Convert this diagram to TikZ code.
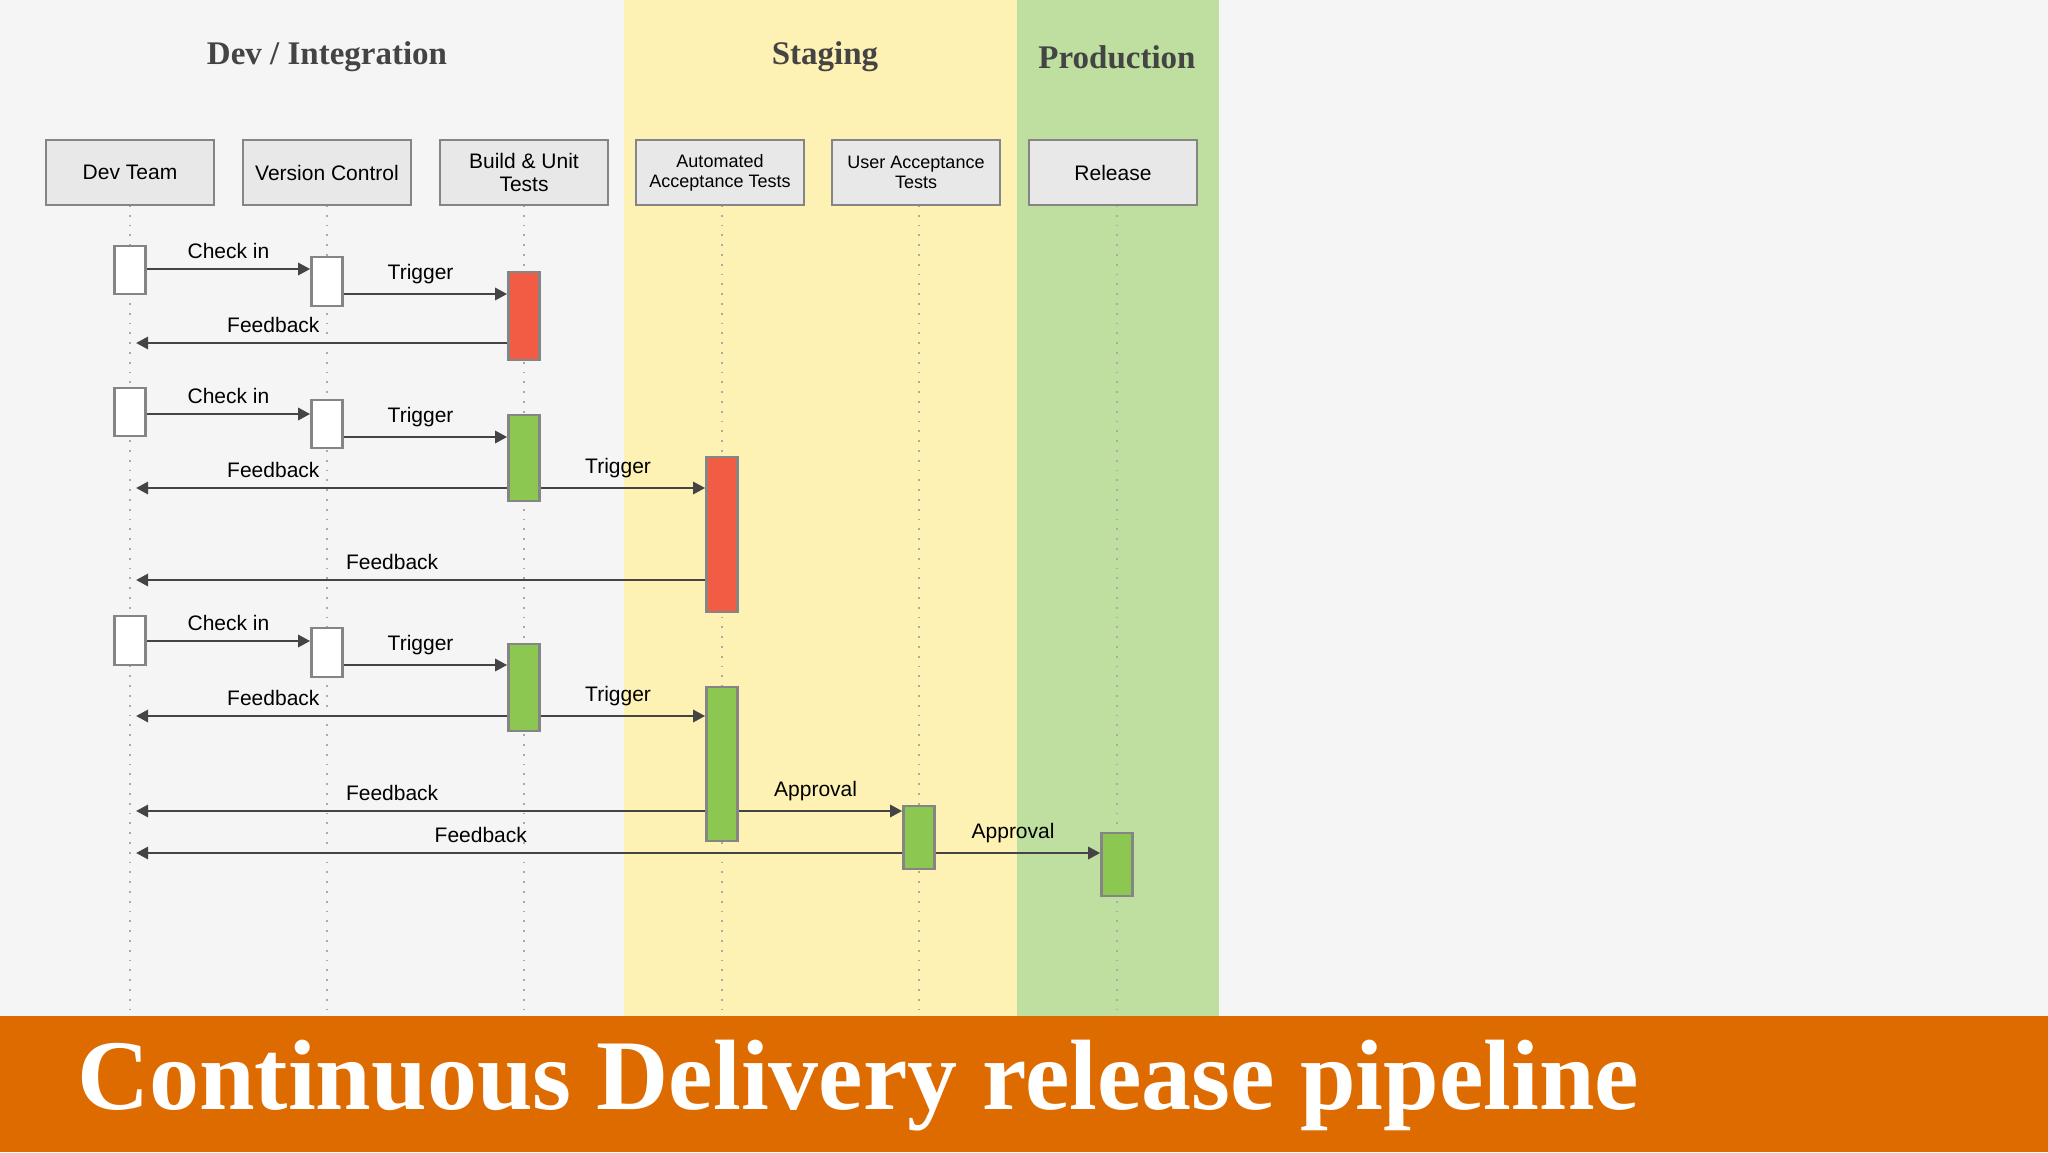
\documentclass[tikz,border=0pt]{standalone}
\usepackage{fontspec}
\setmainfont{Liberation Sans}
\newfontfamily\ttlfont{Liberation Serif}
\usetikzlibrary{arrows.meta}
\definecolor{bgc}{HTML}{F5F5F5}
\definecolor{stg}{HTML}{FEF1B4}
\definecolor{prd}{HTML}{BEDFA0}
\definecolor{org}{HTML}{DD6B00}
\definecolor{redc}{HTML}{F25C45}
\definecolor{grn}{HTML}{8BC751}
\definecolor{boxf}{HTML}{E8E8E8}
\definecolor{edge}{HTML}{858585}
\definecolor{arr}{HTML}{444444}
\begin{document}
\begin{tikzpicture}[x=0.5pt,y=-0.5pt,
  hdr/.style={draw=edge,line width=1.3pt,fill=boxf,minimum width=84pt,minimum height=32.5pt,inner sep=1pt,align=center,font=\fontsize{10.5}{11.5}\selectfont},
  hdrs/.style={hdr,font=\fontsize{9}{10}\selectfont},
  grp/.style={font=\ttlfont\bfseries\fontsize{16.5}{18}\selectfont,text=arr},
  act/.style={draw=edge,line width=1.3pt,minimum width=15.5pt,inner sep=0pt},
  wb/.style={act,fill=white},
  rb/.style={act,fill=redc},
  gb/.style={act,fill=grn},
  life/.style={draw=edge!70,line width=0.9pt,dash pattern=on 0.9pt off 4pt},
  msg/.style={draw=arr,line width=1.4pt,-{Triangle[length=6pt,width=6pt]}},
  lbl/.style={font=\fontsize{10.5}{12}\selectfont,text=black}
]
\fill[bgc] (0,0) rectangle (2048,1152);
\fill[stg] (624,0) rectangle (1017,1016);
\fill[prd] (1017,0) rectangle (1219,1016);
\fill[org] (0,1016) rectangle (2048,1152);
\node[text=white,font=\ttlfont\bfseries\fontsize{50}{54}\selectfont,anchor=west] (title) at (70,1086) {Continuous Delivery release pipeline};

\node[grp] (g1) at (327,57) {Dev / Integration};
\node[grp] (g2) at (825,57) {Staging};
\node[grp] (g3) at (1117,57) {Production};

\foreach \n/\x in {dt/130,vc/327,bu/524,aa/722,ua/919,re/1117}{
  \coordinate (\n top) at (\x,205);
  \coordinate (\n bot) at (\x,1016);
  \draw[life] (\n top) -- (\n bot);
}
\node[hdr] (dt) at (130,172.5) {Dev Team};
\node[hdr] (vc) at (327,172.5) {Version Control};
\node[hdr] (bu) at (524,172.5) {Build \& Unit\\Tests};
\node[hdrs] (aa) at (720,172.5) {Automated\\Acceptance Tests};
\node[hdrs] (ua) at (916,172.5) {User Acceptance\\Tests};
\node[hdr] (re) at (1113,172.5) {Release};

% activations
\node[wb,minimum height=24pt] (d1) at (130,270) {};
\node[wb,minimum height=24.5pt] (v1) at (327,281.5) {};
\node[rb,minimum height=44pt] (b1) at (524,316) {};
\node[wb,minimum height=24pt] (d2) at (130,412) {};
\node[wb,minimum height=24pt] (v2) at (327,424) {};
\node[gb,minimum height=43pt] (b2) at (524,458) {};
\node[rb,minimum height=77.5pt] (a2) at (722,534.5) {};
\node[wb,minimum height=24.5pt] (d3) at (130,640.5) {};
\node[wb,minimum height=24.5pt] (v3) at (327,652.5) {};
\node[gb,minimum height=43.5pt] (b3) at (524,687.5) {};
\node[gb,minimum height=77pt] (a3) at (722,764) {};
\node[gb,minimum height=31.5pt] (u3) at (919,837.5) {};
\node[gb,minimum height=31.5pt] (r3) at (1117,864.5) {};

\coordinate (f1) at (136,343);
\coordinate (f2) at (136,488);
\coordinate (f2b) at (136,580);
\coordinate (f3) at (136,716);
\coordinate (f3b) at (136,811);
\coordinate (f3c) at (136,853);

% row 1
\draw[msg] (d1.east |- 0,269) -- node[lbl,above=1pt,pos=0.5]{Check in} (v1.west |- 0,269);
\draw[msg] (v1.east |- 0,294) -- node[lbl,above=1pt,pos=0.47]{Trigger} (b1.west |- 0,294);
\draw[msg] (b1.west |- 0,343) -- node[lbl,above=1pt,pos=0.63]{Feedback} (f1);
% row 2
\draw[msg] (d2.east |- 0,414) -- node[lbl,above=1pt,pos=0.5]{Check in} (v2.west |- 0,414);
\draw[msg] (v2.east |- 0,437) -- node[lbl,above=1pt,pos=0.47]{Trigger} (b2.west |- 0,437);
\draw[msg] (b2.west |- 0,488) -- node[lbl,above=1pt,pos=0.63]{Feedback} (f2);
\draw[msg] (b2.east |- 0,488) -- node[lbl,above=1pt,pos=0.47]{Trigger} (a2.west |- 0,488);
\draw[msg] (a2.west |- 0,580) -- node[lbl,above=1pt,pos=0.55]{Feedback} (f2b);
% row 3
\draw[msg] (d3.east |- 0,641) -- node[lbl,above=1pt,pos=0.5]{Check in} (v3.west |- 0,641);
\draw[msg] (v3.east |- 0,665) -- node[lbl,above=1pt,pos=0.47]{Trigger} (b3.west |- 0,665);
\draw[msg] (b3.west |- 0,716) -- node[lbl,above=1pt,pos=0.63]{Feedback} (f3);
\draw[msg] (b3.east |- 0,716) -- node[lbl,above=1pt,pos=0.47]{Trigger} (a3.west |- 0,716);
\draw[msg] (a3.west |- 0,811) -- node[lbl,above=1pt,pos=0.55]{Feedback} (f3b);
\draw[msg] (a3.east |- 0,811) -- node[lbl,above=1pt,pos=0.47]{Approval} (u3.west |- 0,811);
\draw[msg] (u3.west |- 0,853) -- node[lbl,above=1pt,pos=0.55]{Feedback} (f3c);
\draw[msg] (u3.east |- 0,853) -- node[lbl,above=1pt,pos=0.47]{Approval} (r3.west |- 0,853);
\end{tikzpicture}
\end{document}
